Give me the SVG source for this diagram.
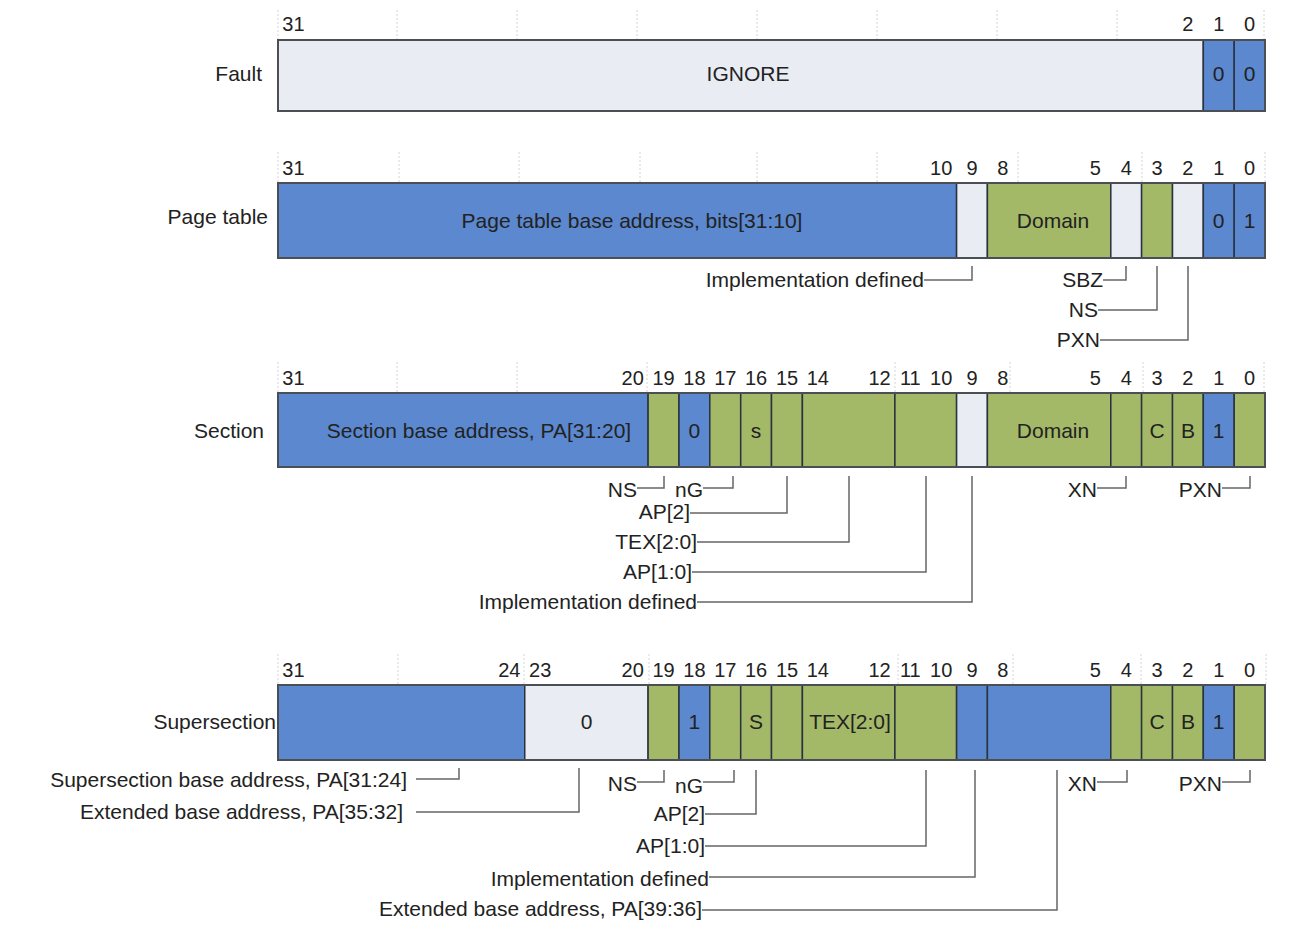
<svg xmlns="http://www.w3.org/2000/svg" width="1296" height="938" viewBox="0 0 1296 938">
<style>
text{font-family:"Liberation Sans",Arial,sans-serif;font-size:21px;fill:#222}
.n{text-anchor:middle;font-size:20px}
.r{text-anchor:end}
.c{text-anchor:middle}
.blue{fill:#5b88cf;stroke:#2a3340;stroke-width:1.5}
.green{fill:#a4b968;stroke:#2a3340;stroke-width:1.5}
.light{fill:#e9ecf3;stroke:#2a3340;stroke-width:1.5}
.outer{fill:none;stroke:#4a4f55;stroke-width:2}
.grid{stroke:#d4d4d4;stroke-width:1;stroke-dasharray:2,2}
.conn path{fill:none;stroke:#666;stroke-width:1.5}
</style>
<rect width="1296" height="938" fill="#fff"/>

<g id="fault">
<g class="grid"><path d="M278,10V40M397,10V40M517,10V40M637,10V40M757,10V40M877,10V40M997,10V40M1117,10V40M1264,10V40"/></g>
<text x="262" y="81" class="r">Fault</text>
<text x="293.4" y="31" class="n">31</text>
<text x="1187.9" y="31" class="n">2</text>
<text x="1218.7" y="31" class="n">1</text>
<text x="1249.6" y="31" class="n">0</text>
<rect x="278" y="40" width="925.3" height="71" class="light"/>
<rect x="1203.3" y="40" width="30.9" height="71" class="blue"/>
<rect x="1234.2" y="40" width="30.8" height="71" class="blue"/>
<rect x="278" y="40" width="987" height="71" class="outer"/>
<text x="748" y="81" class="c">IGNORE</text>
<text x="1218.7" y="81" class="c">0</text>
<text x="1249.6" y="81" class="c">0</text>
</g>

<g id="pagetable">
<g class="grid"><path d="M278,152V183M399,152V183M519,152V183M640,152V183M757,152V183M877,152V183M1018,152V183M1142,152V183M1265,152V183"/></g>
<text x="268" y="224" class="r">Page table</text>
<text x="293.4" y="175" class="n">31</text>
<text x="941.2" y="175" class="n">10</text>
<text x="972" y="175" class="n">9</text>
<text x="1002.8" y="175" class="n">8</text>
<text x="1095.4" y="175" class="n">5</text>
<text x="1126.2" y="175" class="n">4</text>
<text x="1157.1" y="175" class="n">3</text>
<text x="1187.9" y="175" class="n">2</text>
<text x="1218.7" y="175" class="n">1</text>
<text x="1249.6" y="175" class="n">0</text>
<rect x="278" y="183" width="678.6" height="75" class="blue"/>
<rect x="956.6" y="183" width="30.8" height="75" class="light"/>
<rect x="987.4" y="183" width="123.4" height="75" class="green"/>
<rect x="1110.8" y="183" width="30.8" height="75" class="light"/>
<rect x="1141.6" y="183" width="30.9" height="75" class="green"/>
<rect x="1172.5" y="183" width="30.8" height="75" class="light"/>
<rect x="1203.3" y="183" width="30.9" height="75" class="blue"/>
<rect x="1234.2" y="183" width="30.8" height="75" class="blue"/>
<rect x="278" y="183" width="987" height="75" class="outer"/>
<text x="632" y="228" class="c">Page table base address, bits[31:10]</text>
<text x="1053" y="228" class="c">Domain</text>
<text x="1218.7" y="228" class="c">0</text>
<text x="1249.6" y="228" class="c">1</text>
<text x="924" y="287" class="r">Implementation defined</text>
<text x="1103" y="287" class="r">SBZ</text>
<text x="1098" y="317" class="r">NS</text>
<text x="1100" y="347" class="r">PXN</text>
</g>

<g id="section">
<g class="grid"><path d="M278,362V393M397,362V393M517,362V393M647,362V393M895,362V393M1010,362V393M1143,362V393M1264,362V393"/></g>
<text x="264" y="438" class="r">Section</text>
<text x="293.4" y="385" class="n">31</text>
<text x="632.7" y="385" class="n">20</text>
<text x="663.5" y="385" class="n">19</text>
<text x="694.4" y="385" class="n">18</text>
<text x="725.3" y="385" class="n">17</text>
<text x="756.1" y="385" class="n">16</text>
<text x="787" y="385" class="n">15</text>
<text x="817.8" y="385" class="n">14</text>
<text x="879.5" y="385" class="n">12</text>
<text x="910.3" y="385" class="n">11</text>
<text x="941.2" y="385" class="n">10</text>
<text x="972" y="385" class="n">9</text>
<text x="1002.8" y="385" class="n">8</text>
<text x="1095.4" y="385" class="n">5</text>
<text x="1126.2" y="385" class="n">4</text>
<text x="1157.1" y="385" class="n">3</text>
<text x="1187.9" y="385" class="n">2</text>
<text x="1218.7" y="385" class="n">1</text>
<text x="1249.6" y="385" class="n">0</text>
<rect x="278" y="393" width="370.1" height="74" class="blue"/>
<rect x="648.1" y="393" width="30.9" height="74" class="green"/>
<rect x="679" y="393" width="30.8" height="74" class="blue"/>
<rect x="709.8" y="393" width="30.9" height="74" class="green"/>
<rect x="740.7" y="393" width="30.8" height="74" class="green"/>
<rect x="771.5" y="393" width="30.9" height="74" class="green"/>
<rect x="802.4" y="393" width="92.5" height="74" class="green"/>
<rect x="894.9" y="393" width="61.7" height="74" class="green"/>
<rect x="956.6" y="393" width="30.8" height="74" class="light"/>
<rect x="987.4" y="393" width="123.4" height="74" class="green"/>
<rect x="1110.8" y="393" width="30.8" height="74" class="green"/>
<rect x="1141.6" y="393" width="30.9" height="74" class="green"/>
<rect x="1172.5" y="393" width="30.8" height="74" class="green"/>
<rect x="1203.3" y="393" width="30.9" height="74" class="blue"/>
<rect x="1234.2" y="393" width="30.8" height="74" class="green"/>
<rect x="278" y="393" width="987" height="74" class="outer"/>
<text x="479" y="438" class="c">Section base address, PA[31:20]</text>
<text x="694.4" y="438" class="c">0</text>
<text x="756.1" y="438" class="c">s</text>
<text x="1053" y="438" class="c">Domain</text>
<text x="1157.1" y="438" class="c">C</text>
<text x="1187.9" y="438" class="c">B</text>
<text x="1218.7" y="438" class="c">1</text>
<text x="637" y="497" class="r">NS</text>
<text x="703" y="497" class="r">nG</text>
<text x="690" y="519" class="r">AP[2]</text>
<text x="697" y="549" class="r">TEX[2:0]</text>
<text x="692" y="579" class="r">AP[1:0]</text>
<text x="697" y="609" class="r">Implementation defined</text>
<text x="1097" y="497" class="r">XN</text>
<text x="1222" y="497" class="r">PXN</text>
</g>

<g id="supersection">
<g class="grid"><path d="M278,654V685M398,654V685M524,654V685M649,654V685M898,654V685M1013,654V685M1141,654V685M1266,654V685"/></g>
<text x="276" y="729" class="r">Supersection</text>
<text x="293.4" y="677" class="n">31</text>
<text x="509.3" y="677" class="n">24</text>
<text x="540.2" y="677" class="n">23</text>
<text x="632.7" y="677" class="n">20</text>
<text x="663.5" y="677" class="n">19</text>
<text x="694.4" y="677" class="n">18</text>
<text x="725.3" y="677" class="n">17</text>
<text x="756.1" y="677" class="n">16</text>
<text x="787" y="677" class="n">15</text>
<text x="817.8" y="677" class="n">14</text>
<text x="879.5" y="677" class="n">12</text>
<text x="910.3" y="677" class="n">11</text>
<text x="941.2" y="677" class="n">10</text>
<text x="972" y="677" class="n">9</text>
<text x="1002.8" y="677" class="n">8</text>
<text x="1095.4" y="677" class="n">5</text>
<text x="1126.2" y="677" class="n">4</text>
<text x="1157.1" y="677" class="n">3</text>
<text x="1187.9" y="677" class="n">2</text>
<text x="1218.7" y="677" class="n">1</text>
<text x="1249.6" y="677" class="n">0</text>
<rect x="278" y="685" width="246.75" height="75" class="blue"/>
<rect x="524.75" y="685" width="123.35" height="75" class="light"/>
<rect x="648.1" y="685" width="30.9" height="75" class="green"/>
<rect x="679" y="685" width="30.8" height="75" class="blue"/>
<rect x="709.8" y="685" width="30.9" height="75" class="green"/>
<rect x="740.7" y="685" width="30.8" height="75" class="green"/>
<rect x="771.5" y="685" width="30.9" height="75" class="green"/>
<rect x="802.4" y="685" width="92.5" height="75" class="green"/>
<rect x="894.9" y="685" width="61.7" height="75" class="green"/>
<rect x="956.6" y="685" width="30.8" height="75" class="blue"/>
<rect x="987.4" y="685" width="123.4" height="75" class="blue"/>
<rect x="1110.8" y="685" width="30.8" height="75" class="green"/>
<rect x="1141.6" y="685" width="30.9" height="75" class="green"/>
<rect x="1172.5" y="685" width="30.8" height="75" class="green"/>
<rect x="1203.3" y="685" width="30.9" height="75" class="blue"/>
<rect x="1234.2" y="685" width="30.8" height="75" class="green"/>
<rect x="278" y="685" width="987" height="75" class="outer"/>
<text x="586.5" y="729" class="c">0</text>
<text x="694.4" y="729" class="c">1</text>
<text x="756.1" y="729" class="c">S</text>
<text x="850" y="729" class="c">TEX[2:0]</text>
<text x="1157.1" y="729" class="c">C</text>
<text x="1187.9" y="729" class="c">B</text>
<text x="1218.7" y="729" class="c">1</text>
<text x="407" y="787" class="r">Supersection base address, PA[31:24]</text>
<text x="403" y="819" class="r">Extended base address, PA[35:32]</text>
<text x="637" y="791" class="r">NS</text>
<text x="703" y="793" class="r">nG</text>
<text x="705" y="821" class="r">AP[2]</text>
<text x="705" y="853" class="r">AP[1:0]</text>
<text x="709" y="886" class="r">Implementation defined</text>
<text x="702" y="916" class="r">Extended base address, PA[39:36]</text>
<text x="1097" y="791" class="r">XN</text>
<text x="1222" y="791" class="r">PXN</text>
</g>

<g id="connectors" class="conn">
<path d="M924,280H972V266"/>
<path d="M1103,280H1126V266"/>
<path d="M1098,310H1157V266"/>
<path d="M1100,340H1188V266"/>
<path d="M637,488H664V476"/>
<path d="M703,488H733V476"/>
<path d="M690,513H787V476"/>
<path d="M697,542H849V476"/>
<path d="M692,572H926V476"/>
<path d="M697,602H972V476"/>
<path d="M1097,488H1126V476"/>
<path d="M1222,488H1250V476"/>
<path d="M416,779H459V768"/>
<path d="M416,812H579V768"/>
<path d="M637,782H664V770"/>
<path d="M703,782H734V770"/>
<path d="M705,814H756V770"/>
<path d="M705,846H926V770"/>
<path d="M709,877H975V770"/>
<path d="M702,910H1057V770"/>
<path d="M1097,782H1127V770"/>
<path d="M1222,782H1250V770"/>
</g>
</svg>
